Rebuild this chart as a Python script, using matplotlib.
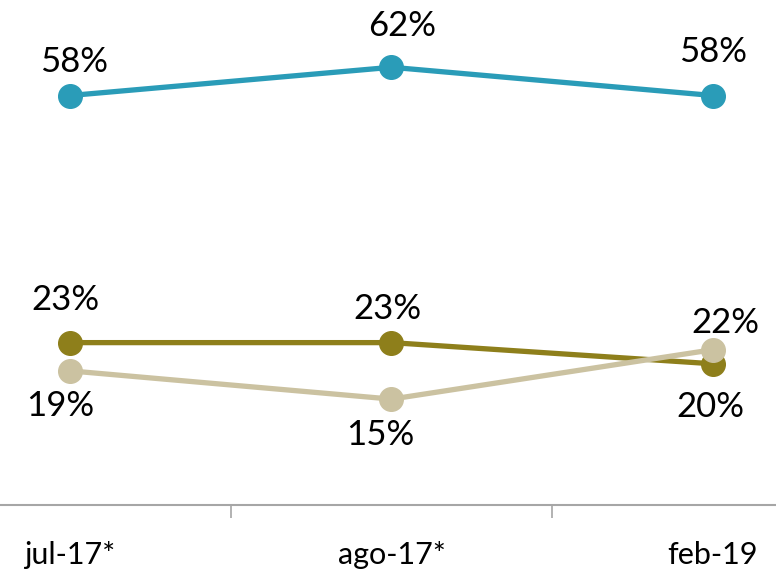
import numpy as np
import matplotlib.pyplot as plt

plt.rcParams['font.family'] = ['Lato', 'DejaVu Sans']

categories = ['jul-17*', 'ago-17*', 'feb-19']
blue_vals = [58, 62, 58]
olive_vals = [23, 23, 20]
beige_vals = [19, 15, 22]

# label offsets in points (dx, dy) per point
blue_off = [(3, 24), (8, 30), (0, 31)]
olive_off = [(-3, 31), (-3, 24), (-2, -31)]
beige_off = [(-7, -25), (-8, -26), (9, 19)]

fig = plt.figure(figsize=(7.76, 5.74), dpi=100)
ax = fig.add_axes([0, 69/574, 1, 505/574])

x = np.arange(len(categories))
series = [
    (blue_vals, '#2a9cb8', blue_off),
    (olive_vals, '#8e7f1b', olive_off),
    (beige_vals, '#cbc2a1', beige_off),
]
for vals, col, offs in series:
    ax.plot(x, vals, color=col, lw=3.8, marker='o', ms=17, zorder=3,
            solid_capstyle='round')
    for xi, v, (dx, dy) in zip(x, vals, offs):
        ax.annotate(f'{v}%', (xi, v), xytext=(dx, dy), textcoords='offset points',
                    ha='center', va='center', fontsize=25, color='black')

ax.set_xlim(-70/321.5, 2 + 63/321.5)
ax.set_ylim(0, 505/7.06)
ax.set_yticks([])
ax.set_xticks(x)
ax.set_xticklabels(categories, fontsize=22)
ax.set_xticks([0.5, 1.5], minor=True)
ax.tick_params(axis='x', which='major', length=0, pad=26)
ax.tick_params(axis='x', which='minor', length=9, color='#a6a6a6', width=1.2)
for s in ['top', 'left', 'right']:
    ax.spines[s].set_visible(False)
ax.spines['bottom'].set_color('#a6a6a6')
ax.spines['bottom'].set_linewidth(1.5)

fig.savefig('out.png', dpi=100)
